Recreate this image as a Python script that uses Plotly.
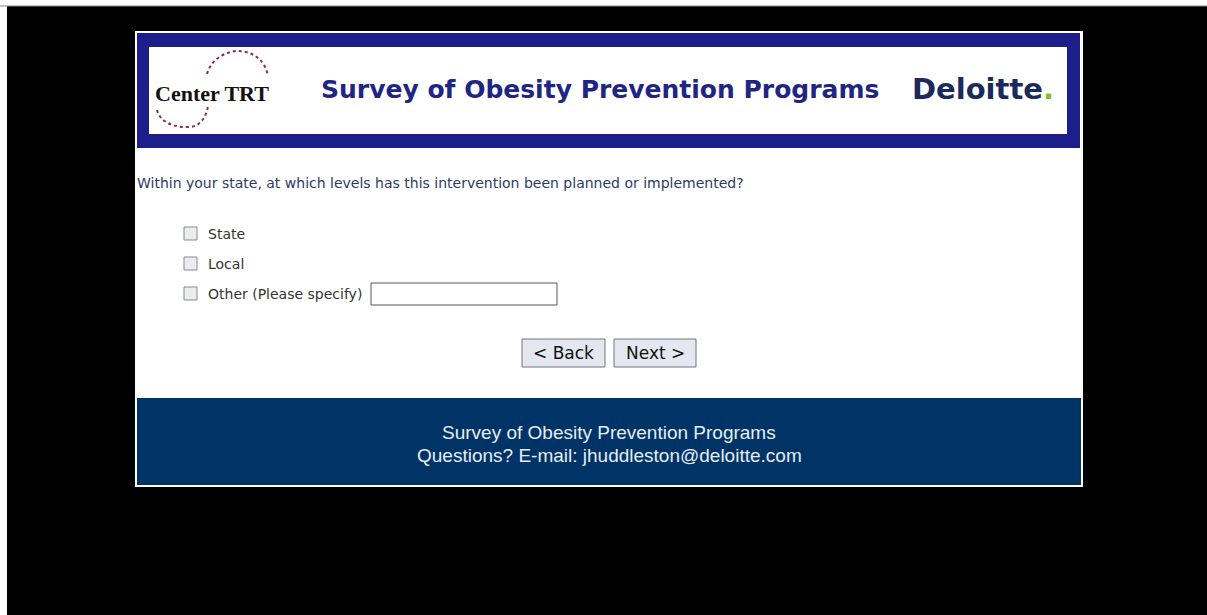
import plotly.graph_objects as go

# ---- content ----
header_title = "Survey of Obesity Prevention Programs"
logo_left = "Center TRT"
logo_right = "Deloitte"
question = "Within your state, at which levels has this intervention been planned or implemented?"
option_labels = ["State", "Local", "Other (Please specify)"]
button_labels = ["< Back", "Next >"]
footer_lines = ["Survey of Obesity Prevention Programs",
                "Questions? E-mail: jhuddleston@deloitte.com"]

# ---- layout positions (pixels) ----
W, H = 1207, 615
option_y = [234, 264, 294]
button_x = [(522, 605), (614, 696)]
footer_y = [432, 455]

NAVY = "#1c1f8a"
FOOT = "#003366"

shapes = []
ann = []

def rect(x0, y0, x1, y1, fill, line=None, lw=1):
    shapes.append(dict(type="rect", xref="x", yref="y", x0=x0, y0=y0, x1=x1, y1=y1,
                       fillcolor=fill, line=dict(color=line or fill, width=lw if line else 0),
                       layer="below"))

# screen edges
rect(0, 0, W, 6, "#ffffff")
shapes.append(dict(type="line", xref="x", yref="y", x0=0, x1=W, y0=6, y1=6,
                   line=dict(color="#888888", width=1)))
rect(0, 0, 7, H, "#ffffff")

# page box
rect(135, 31, 1083, 487, "#ffffff")
# header band
rect(137, 33, 1080, 148, NAVY)
rect(149, 47, 1067, 134, "#ffffff")

# logo arcs (Center TRT)
shapes.append(dict(type="path", xref="x", yref="y",
                   path="M 207,74 C 212,56 232,48 246,52 C 258,55 266,64 268,76",
                   line=dict(color="#8b2a4a", width=2, dash="dot")))
shapes.append(dict(type="path", xref="x", yref="y",
                   path="M 157,110 C 160,122 174,128 190,127 C 200,126 206,118 208,106",
                   line=dict(color="#8b2a4a", width=2, dash="dot")))
ann.append(dict(x=212, y=93, text="<b>" + logo_left + "</b>", showarrow=False,
                xanchor="center", yanchor="middle",
                font=dict(family="Liberation Serif", size=22, color="#111111")))

ann.append(dict(x=600, y=89, text="<b>" + header_title + "</b>", showarrow=False,
                xanchor="center", yanchor="middle",
                font=dict(family="DejaVu Sans", size=25, color="#1f2583")))
ann.append(dict(x=910, y=89, text="<b>" + logo_right + "<span style='color:#86bc25'>.</span></b>",
                showarrow=False, xanchor="left", yanchor="middle",
                font=dict(family="DejaVu Sans", size=29, color="#1b2a5c")))

# question
ann.append(dict(x=135, y=183, text=question, showarrow=False, xanchor="left", yanchor="middle",
                font=dict(family="DejaVu Sans", size=14, color="#2b3a67")))

# options
for lab, yy in zip(option_labels, option_y):
    rect(184, yy - 7, 197, yy + 6, "#ececec", "#7f8d9c", 1)
    ann.append(dict(x=206, y=yy, text=lab, showarrow=False, xanchor="left", yanchor="middle",
                    font=dict(family="DejaVu Sans", size=14, color="#333333")))
# specify input
rect(371, 283, 557, 305, "#ffffff", "#555555", 1)

# buttons
for lab, (bx0, bx1) in zip(button_labels, button_x):
    rect(bx0, 339, bx1, 367, "#e4e7ef", "#6f7680", 1)
    ann.append(dict(x=(bx0 + bx1) / 2, y=353, text=lab, showarrow=False,
                    xanchor="center", yanchor="middle",
                    font=dict(family="DejaVu Sans", size=17, color="#111111")))

# footer
rect(137, 398, 1081, 485, FOOT)
for line, yy in zip(footer_lines, footer_y):
    ann.append(dict(x=609, y=yy, text=line, showarrow=False, xanchor="center", yanchor="middle",
                    font=dict(family="Liberation Sans", size=19, color="#e6edf5")))

fig = go.Figure()
fig.update_layout(
    width=W, height=H, margin=dict(l=0, r=0, t=0, b=0),
    paper_bgcolor="#000000", plot_bgcolor="#000000",
    xaxis=dict(range=[0, W], visible=False, fixedrange=True),
    yaxis=dict(range=[H, 0], visible=False, fixedrange=True),
    shapes=shapes, annotations=ann, showlegend=False,
)
fig.write_html("out.html", config={"displayModeBar": False},
               post_script="document.body.style.margin='0';document.body.style.background='#000';")
